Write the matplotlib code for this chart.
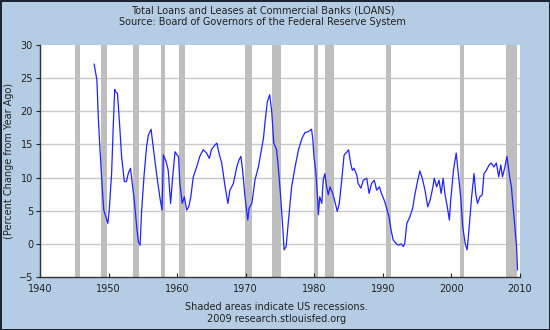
import matplotlib
matplotlib.use("Agg")
import matplotlib.pyplot as plt

# ==========================================
# DATA
# ==========================================

years = [
    1947.9, 1948.3, 1948.5, 1948.75, 1949.1, 1949.3, 1949.9, 1950.1, 1950.45, 1950.7,
    1950.9, 1951.0, 1951.3, 1951.6, 1951.9, 1952.3, 1952.6, 1952.9, 1953.2, 1953.4,
    1953.75, 1954.1, 1954.35, 1954.6, 1954.8, 1955.2, 1955.55, 1955.8, 1956.2, 1956.5,
    1957.0, 1957.5, 1957.8, 1958.0, 1958.4, 1958.7, 1959.05, 1959.35, 1959.7, 1960.0,
    1960.2, 1960.4, 1960.75, 1961.05, 1961.4, 1961.7, 1962.0, 1962.35, 1962.85, 1963.3,
    1963.8, 1964.3, 1964.7, 1965.0, 1965.5, 1965.8, 1966.1, 1966.5, 1967.0, 1967.4,
    1967.7, 1968.2, 1968.7, 1969.0, 1969.3, 1969.55, 1969.9, 1970.3, 1970.5, 1970.9,
    1971.35, 1971.85, 1972.3, 1972.6, 1972.8, 1973.15, 1973.5, 1973.8, 1974.1, 1974.5,
    1974.75, 1975.1, 1975.4, 1975.6, 1975.9, 1976.2, 1976.7, 1977.2, 1977.7, 1978.2,
    1978.65, 1979.1, 1979.6, 1979.8, 1979.95, 1980.25, 1980.5, 1980.6, 1980.8, 1981.1,
    1981.3, 1981.55, 1981.8, 1982.05, 1982.3, 1982.7, 1983.0, 1983.35, 1983.65, 1984.0,
    1984.35, 1984.8, 1985.0, 1985.3, 1985.55, 1985.8, 1986.2, 1986.4, 1986.8, 1987.15,
    1987.65, 1988.0, 1988.35, 1988.75, 1989.1, 1989.5, 1989.8, 1990.2, 1990.55, 1990.9,
    1991.2, 1991.5, 1991.9, 1992.25, 1992.65, 1993.0, 1993.2, 1993.5, 1993.95, 1994.35,
    1994.7, 1995.1, 1995.4, 1995.75, 1996.15, 1996.55, 1996.9, 1997.3, 1997.5, 1997.85,
    1998.2, 1998.5, 1998.8, 1999.05, 1999.4, 1999.7, 1999.9, 2000.3, 2000.7, 2001.0,
    2001.35, 2001.65, 2002.0, 2002.3, 2002.6, 2002.95, 2003.3, 2003.55, 2003.8, 2004.15,
    2004.5, 2004.75, 2005.1, 2005.5, 2005.8, 2006.2, 2006.55, 2006.9, 2007.2, 2007.45,
    2007.8, 2008.1, 2008.5, 2008.75, 2009.0, 2009.25, 2009.5, 2009.65,
]

loans_pct = [
    27.1, 24.7, 19.2, 14.2, 8.1, 5.1, 3.1, 5.1, 10.7, 18.2,
    23.3, 23.0, 22.7, 18.2, 13.2, 9.4, 9.4, 10.7, 11.4, 9.6,
    6.6, 2.6, 0.3, -0.2, 4.6, 10.6, 14.7, 16.4, 17.3, 14.7,
    10.6, 6.9, 5.1, 13.4, 12.4, 11.1, 6.1, 10.1, 13.9, 13.4,
    13.2, 9.1, 6.1, 7.1, 5.1, 5.6, 7.1, 10.1, 11.6, 13.2,
    14.2, 13.7, 12.9, 14.2, 14.9, 15.2, 13.7, 12.2, 8.6, 6.1,
    8.1, 9.1, 11.6, 12.6, 13.2, 11.1, 7.1, 3.6, 5.4, 6.1,
    9.6, 11.6, 14.2, 16.0, 18.2, 21.4, 22.5, 19.9, 15.2, 14.2,
    11.6, 7.1, 2.6, -0.9, -0.4, 3.1, 8.6, 11.6, 14.2, 15.9,
    16.8, 16.9, 17.3, 15.7, 13.2, 10.6, 6.6, 4.4, 7.1, 6.1,
    9.6, 10.6, 8.6, 7.4, 8.6, 7.6, 6.4, 4.9, 6.1, 9.6,
    13.4, 13.9, 14.2, 12.2, 11.1, 11.4, 10.4, 9.1, 8.4, 9.6,
    9.9, 7.6, 9.1, 9.6, 8.1, 8.6, 7.6, 6.6, 5.4, 4.1,
    2.1, 0.6, 0.1, -0.2, 0.0, -0.4, 0.1, 3.1, 4.1, 5.4,
    7.6, 9.6, 11.0, 9.9, 8.1, 5.6, 6.6, 8.6, 9.9, 8.6,
    9.6, 7.6, 9.9, 7.6, 5.6, 3.6, 6.6, 11.1, 13.7, 10.6,
    7.1, 2.6, 0.1, -0.9, 2.6, 7.1, 10.6, 7.6, 6.1, 7.1,
    7.4, 10.6, 11.1, 11.9, 12.2, 11.6, 12.2, 10.1, 11.9, 10.1,
    11.6, 13.2, 10.1, 8.6, 5.6, 2.6, -0.4, -3.9,
]

recession_start = [1945.1, 1948.9, 1953.5, 1957.6, 1960.3, 1969.9, 1973.9, 1980.0, 1981.5, 1990.5, 2001.2, 2007.9]
recession_end = [1945.8, 1949.8, 1954.4, 1958.3, 1961.1, 1970.9, 1975.2, 1980.5, 1982.9, 1991.2, 2001.9, 2009.5]

x_ticks = [1940, 1950, 1960, 1970, 1980, 1990, 2000, 2010]
y_ticks = [-5, 0, 5, 10, 15, 20, 25, 30]

# ==========================================
# FIGURE
# ==========================================

bg = "#B4CDE4"

fig = plt.figure(figsize=(5.5, 3.3), dpi=100, facecolor=bg,
                 edgecolor="#1c2433", linewidth=2)
ax = fig.add_axes([0.0727, 0.1606, 0.8727, 0.703])
ax.set_facecolor("white")

for s, e in zip(recession_start, recession_end):
    ax.axvspan(s, e, color="#BEBEBE", lw=0, zorder=1)

for v in y_ticks[1:-1]:
    ax.axhline(v, color="#C8C8C8", lw=1, zorder=0.5)

ax.plot(years, loans_pct, color="#2222FF", lw=0.9, zorder=3)

ax.set_xlim(1940, 2010)
ax.set_ylim(-5, 30)
ax.set_xticks(x_ticks)
ax.set_yticks(y_ticks)

ax.tick_params(axis="x", direction="in", length=3, labelsize=7, colors="#222222", pad=5)
ax.tick_params(axis="y", direction="out", length=3, labelsize=7, colors="#222222", pad=2)

for side in ["top", "right"]:
    ax.spines[side].set_visible(False)
for side in ["left", "bottom"]:
    ax.spines[side].set_color("#333333")
    ax.spines[side].set_linewidth(1)

ax.set_ylabel("(Percent Change from Year Ago)", fontsize=7, color="#222222", labelpad=3)

# ==========================================
# TEXT
# ==========================================

fig.text(0.478, 0.968, "Total Loans and Leases at Commercial Banks (LOANS)",
         ha="center", va="center", fontsize=7, color="#222222")
fig.text(0.478, 0.932, "Source: Board of Governors of the Federal Reserve System",
         ha="center", va="center", fontsize=7, color="#222222")
fig.text(0.503, 0.070, "Shaded areas indicate US recessions.",
         ha="center", va="center", fontsize=7, color="#222222")
fig.text(0.503, 0.033, "2009 research.stlouisfed.org",
         ha="center", va="center", fontsize=7, color="#222222")

fig.savefig("out.png", dpi=100, facecolor=bg, edgecolor="#1c2433")
